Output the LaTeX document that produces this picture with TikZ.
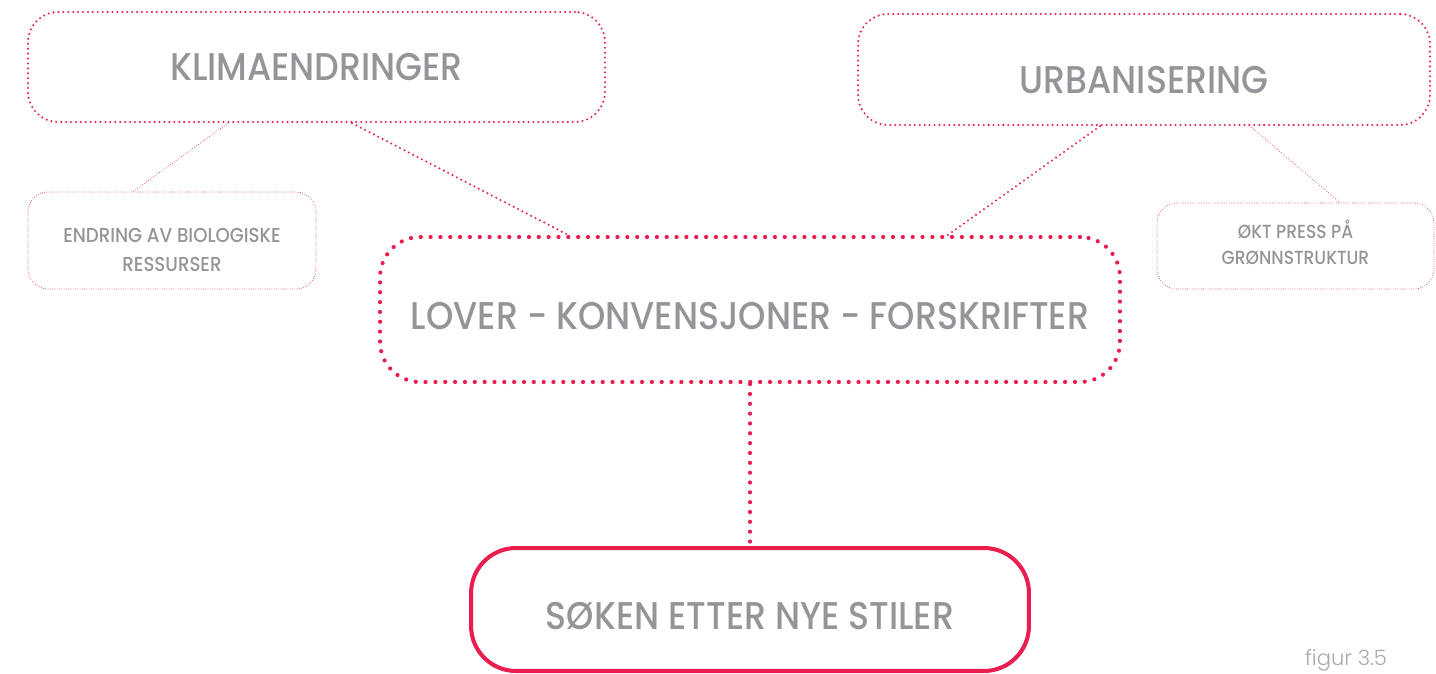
\documentclass[tikz,border=0pt]{standalone}
\usepackage{fontspec}
\setmainfont{Poppins}[FakeStretch=0.9,UprightFont={* Medium}]
\newfontfamily\figfont{Poppins Light}
\usepackage{xcolor}
\definecolor{klred}{RGB}{233,30,78}
\definecolor{klgray}{RGB}{147,149,152}
\usetikzlibrary{calc}

\begin{document}
\begin{tikzpicture}[
    x=0.02cm, y=-0.02cm,
    bigtext/.style={
      text=klgray,
      font=\fontsize{22}{26}\selectfont,
      inner sep=0pt,
    },
    smalltext/.style={
      text=klgray,
      font=\fontsize{11.5}{16}\selectfont,
      align=center,
      inner sep=0pt,
    },
    thinbox/.style={
      draw=klred,
      line width=0.5pt,
      dash pattern=on 0pt off 1.3pt,
      line cap=round,
      rounded corners=0.4cm,
    },
    midbox/.style={
      draw=klred,
      line width=1.3pt,
      dash pattern=on 0pt off 2.8pt,
      line cap=round,
      rounded corners=0.6cm,
    },
    fatbox/.style={
      draw=klred,
      line width=2.4pt,
      dash pattern=on 0pt off 5.6pt,
      line cap=round,
      rounded corners=0.8cm,
    },
    solidbox/.style={
      draw=klred,
      line width=2.3pt,
      rounded corners=0.9cm,
    },
  ]
    \useasboundingbox (0,0) rectangle (1436,673);

    % top row
    \node[midbox,bigtext,minimum width=11.54cm,minimum height=2.2cm,text height=0.56cm]
      (klima) at (316.5,67) {KLIMAENDRINGER};
    \node[midbox,bigtext,minimum width=11.44cm,minimum height=2.22cm,text height=0.96cm]
      (urban) at (1144,69.5) {URBANISERING};

    % side boxes
    \node[thinbox,smalltext,minimum width=5.76cm,minimum height=1.94cm,text height=1.22cm,text depth=0pt]
      (bio) at (172,240.5) {ENDRING AV BIOLOGISKE\\RESSURSER};
    \node[thinbox,text=klgray,inner sep=0pt,font=\fontsize{10.8}{15}\selectfont,
      minimum width=5.54cm,minimum height=1.72cm]
      (press) at (1295.5,246)
      {\begin{tabular}{@{}c@{}}ØKT PRESS PÅ\\GRØNNSTRUKTUR\end{tabular}\hspace{0.56cm}};

    % middle and bottom
    \node[fatbox,bigtext,minimum width=14.8cm,minimum height=2.9cm,text height=0.82cm]
      (lover) at (750,309.5) {LOVER - KONVENSJONER - FORSKRIFTER};
    \node[solidbox,bigtext,minimum width=11.16cm,minimum height=2.46cm,text height=0.82cm]
      (soken) at (750,609.5) {SØKEN ETTER NYE STILER};

    \node[text=klgray!80,font=\figfont\fontsize{12}{14}\selectfont,inner sep=0pt]
      (fig) at (1346,660) {figur 3.5};

    % connectors
    \draw[thinbox] ([xshift=-1.77cm]klima.south) -- ([xshift=-0.78cm]bio.north);
    \draw[midbox] ([xshift=0.71cm]klima.south) -- ([xshift=-3.64cm]lover.north);
    \draw[midbox] ([xshift=-0.88cm]urban.south) -- ([xshift=3.96cm]lover.north);
    \draw[thinbox] ([xshift=2.12cm]urban.south) -- ([xshift=0.89cm]press.north);
    \draw[fatbox] (lover.south) -- (soken.north);
  \end{tikzpicture}
\end{document}
